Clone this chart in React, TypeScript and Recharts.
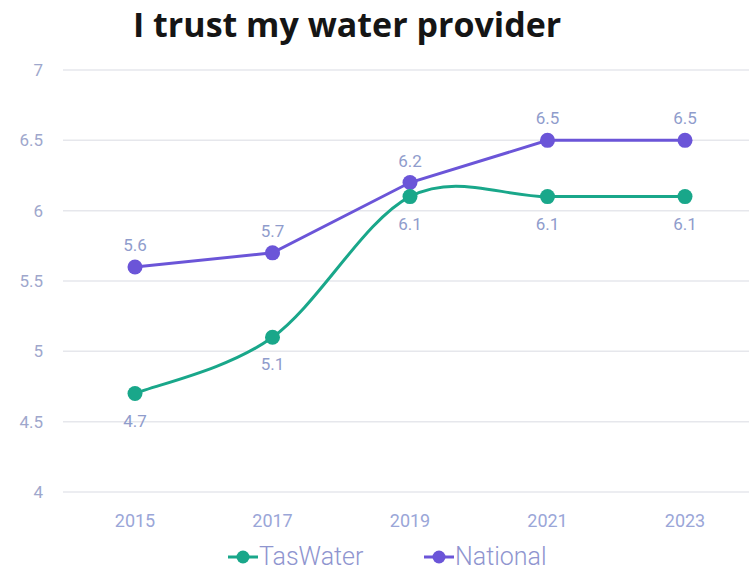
import React from 'react';
import { LineChart, Line, XAxis, YAxis, CartesianGrid, Legend, LabelList } from 'recharts';

const years = ['2015', '2017', '2019', '2021', '2023'];
const tasWater = [4.7, 5.1, 6.1, 6.1, 6.1];
const national = [5.6, 5.7, 6.2, 6.5, 6.5];
const yTicks = [4, 4.5, 5, 5.5, 6, 6.5, 7];

const TEAL = '#19a78a';
const PURPLE = '#6b55d8';
const LABEL = '#8f9ccc';
const FONT = 'Roboto, sans-serif';

const data = years.map((year, i) => ({ year, TasWater: tasWater[i], National: national[i] }));

// catmull-rom style smoothing, similar to spreadsheet "smoothed line"
const smoothCurve = (context: any) => {
  let pts: [number, number][] = [];
  return {
    areaStart() {},
    areaEnd() {},
    lineStart() {
      pts = [];
    },
    lineEnd() {
      if (!pts.length) return;
      context.moveTo(pts[0][0], pts[0][1]);
      for (let i = 0; i < pts.length - 1; i++) {
        const p0 = pts[i - 1] || pts[i];
        const p1 = pts[i];
        const p2 = pts[i + 1];
        const p3 = pts[i + 2] || p2;
        context.bezierCurveTo(
          p1[0] + (p2[0] - p0[0]) / 6,
          p1[1] + (p2[1] - p0[1]) / 6,
          p2[0] - (p3[0] - p1[0]) / 6,
          p2[1] - (p3[1] - p1[1]) / 6,
          p2[0],
          p2[1]
        );
      }
    },
    point(x: number, y: number) {
      pts.push([+x, +y]);
    },
  };
};

const legendItems = [
  { name: 'TasWater', color: TEAL, left: 227 },
  { name: 'National', color: PURPLE, left: 423 },
];

const LegendContent = () => (
  <div style={{ position: 'relative', height: 30 }}>
    {legendItems.map((item) => (
      <div
        key={item.name}
        style={{ position: 'absolute', left: item.left, top: 4, height: 30, display: 'flex', alignItems: 'center' }}
      >
        <svg width={32} height={16}>
          <line x1={1} y1={8} x2={31} y2={8} stroke={item.color} strokeWidth={3} />
          <circle cx={16} cy={8} r={6.5} fill={item.color} />
        </svg>
        <span style={{ color: '#8f95cf', fontSize: 25, fontWeight: 300, fontFamily: FONT, lineHeight: '30px' }}>
          {item.name}
        </span>
      </div>
    ))}
  </div>
);

const App: React.FC = () => {
  return (
    <div style={{ position: 'absolute', left: 0, top: 0, width: 749, height: 582, background: '#fff' }}>
      <div
        style={{
          position: 'absolute',
          left: 133,
          top: 4,
          fontFamily: '"Open Sans", sans-serif',
          fontWeight: 700,
          fontSize: 34,
          lineHeight: '40px',
          color: '#151515',
          whiteSpace: 'nowrap',
        }}
      >
        I trust my water provider
      </div>
      <LineChart width={749} height={582} data={data} margin={{ top: 70, right: 0, left: 0, bottom: 14 }}>
        <CartesianGrid vertical={false} stroke="#e6e7ec" strokeWidth={1.5} />
        <XAxis
          dataKey="year"
          axisLine={false}
          tickLine={false}
          height={46}
          tickMargin={16}
          padding={{ left: 72, right: 64 }}
          tick={{ fill: '#9aa6d8', fontSize: 18, fontFamily: FONT }}
        />
        <YAxis
          domain={[4, 7]}
          ticks={yTicks}
          width={63}
          axisLine={false}
          tickLine={false}
          tickMargin={14}
          tick={{ fill: '#9ea7cc', fontSize: 17, fontFamily: FONT }}
        />
        <Legend verticalAlign="bottom" content={<LegendContent />} />
        <Line
          dataKey="National"
          type="linear"
          stroke={PURPLE}
          strokeWidth={3}
          dot={{ r: 7.5, fill: PURPLE, stroke: PURPLE, strokeWidth: 0 }}
          isAnimationActive={false}
        >
          <LabelList dataKey="National" position="top" offset={16} fill={LABEL} fontSize={17} fontFamily={FONT} />
        </Line>
        <Line
          dataKey="TasWater"
          type={smoothCurve as any}
          stroke={TEAL}
          strokeWidth={3}
          dot={{ r: 7.5, fill: TEAL, stroke: TEAL, strokeWidth: 0 }}
          isAnimationActive={false}
        >
          <LabelList dataKey="TasWater" position="bottom" offset={21} fill={LABEL} fontSize={17} fontFamily={FONT} />
        </Line>
      </LineChart>
    </div>
  );
};

export default App;
